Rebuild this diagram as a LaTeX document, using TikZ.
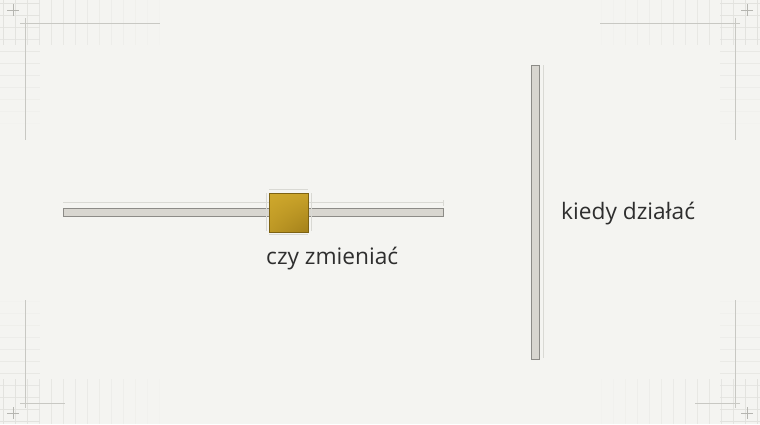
\documentclass[tikz,border=0pt]{standalone}
\usepackage{fontspec}
\usetikzlibrary{shadings}
\setmainfont{Open Sans}
\definecolor{bg}{HTML}{F4F4F1}
\definecolor{gridc}{HTML}{E2E2DE}
\definecolor{guide}{HTML}{D9D9D4}
\definecolor{barfill}{HTML}{D8D6D0}
\definecolor{barline}{HTML}{8C8B87}
\definecolor{goldA}{HTML}{CFA82C}
\definecolor{goldB}{HTML}{A3801A}
\definecolor{goldline}{HTML}{7D6212}
\definecolor{txt}{HTML}{2E2E2E}
\definecolor{markc}{HTML}{B5B5B0}
\tikzset{
  bar/.style={draw=barline, fill=barfill, line width=0.9pt},
  guideline/.style={draw=guide, line width=0.6pt},
  gridline/.style={draw=gridc, line width=0.5pt},
  cornermark/.style={draw=markc, line width=0.7pt},
  frameline/.style={draw=markc!70!bg, line width=0.6pt},
  label/.style={font=\fontsize{22.7}{27}\selectfont, text=txt, inner sep=0pt, anchor=base west},
}
\begin{document}
\begin{tikzpicture}[x=1pt,y=-1pt]
\fill[bg] (0,0) rectangle (760,424);
\useasboundingbox (0,0) rectangle (760,424);
% faint corner grids
\foreach \i in {0,...,13}{
  \pgfmathsetmacro{\op}{1-\i/14}
  \draw[gridline, opacity=\op] ({12*\i+3},0) -- ({12*\i+3},45);
  \draw[gridline, opacity=\op] ({757-12*\i},0) -- ({757-12*\i},45);
  \draw[gridline, opacity=\op] ({12*\i+3},424) -- ({12*\i+3},379);
  \draw[gridline, opacity=\op] ({757-12*\i},424) -- ({757-12*\i},379);
}
\foreach \i in {0,...,10}{
  \pgfmathsetmacro{\op}{1-\i/11}
  \draw[gridline, opacity=\op] (0,{12*\i+3}) -- (40,{12*\i+3});
  \draw[gridline, opacity=\op] (720,{12*\i+3}) -- (760,{12*\i+3});
  \draw[gridline, opacity=\op] (0,{421-12*\i}) -- (40,{421-12*\i});
  \draw[gridline, opacity=\op] (720,{421-12*\i}) -- (760,{421-12*\i});
}
% frame lines
\draw[frameline] (20,23) -- (160,23);
\draw[frameline] (25,18) -- (25,140);
\draw[frameline] (740,23) -- (600,23);
\draw[frameline] (735,18) -- (735,140);
\draw[frameline] (20,403) -- (65,403);
\draw[frameline] (25,408) -- (25,300);
\draw[frameline] (740,403) -- (695,403);
\draw[frameline] (735,408) -- (735,300);
% corner crosses
\foreach \cx/\cy in {13/10,747/10,13/413,747/413}{
  \draw[cornermark] (\cx-6,\cy) -- (\cx+6,\cy) (\cx,\cy-6) -- (\cx,\cy+6);
}
% horizontal slider
\draw[guideline] (63,202) -- (443,202);
\draw[guideline] (443,200) -- (443,206);
\node[bar, minimum width=380pt, minimum height=8pt, inner sep=0pt, anchor=north west] (hbar) at (63,207.5) {};
% knob guides
\draw[guideline] (269,189) -- (308,189);
\draw[guideline] (269,234) -- (308,234);
\draw[guideline] (266,193) -- (266,231);
\draw[guideline] (311,193) -- (311,231);
\node[draw=goldline, line width=0.6pt, minimum size=39pt, inner sep=0pt, anchor=north west,
  path picture={\shade[upper left=goldA, upper right=goldA!85!goldB, lower left=goldA!60!goldB, lower right=goldB]
  (path picture bounding box.south west) rectangle (path picture bounding box.north east);}] (knob) at (269,193) {};
\node[label] (lblA) at (266,264) {czy zmieniać};
% vertical slider
\draw[guideline] (543,65) -- (543,358);
\node[bar, minimum width=8pt, minimum height=294pt, inner sep=0pt, anchor=north west] (vbar) at (531,64.5) {};
\node[label] (lblB) at (561,219) {kiedy działać};
\end{tikzpicture}
\end{document}
